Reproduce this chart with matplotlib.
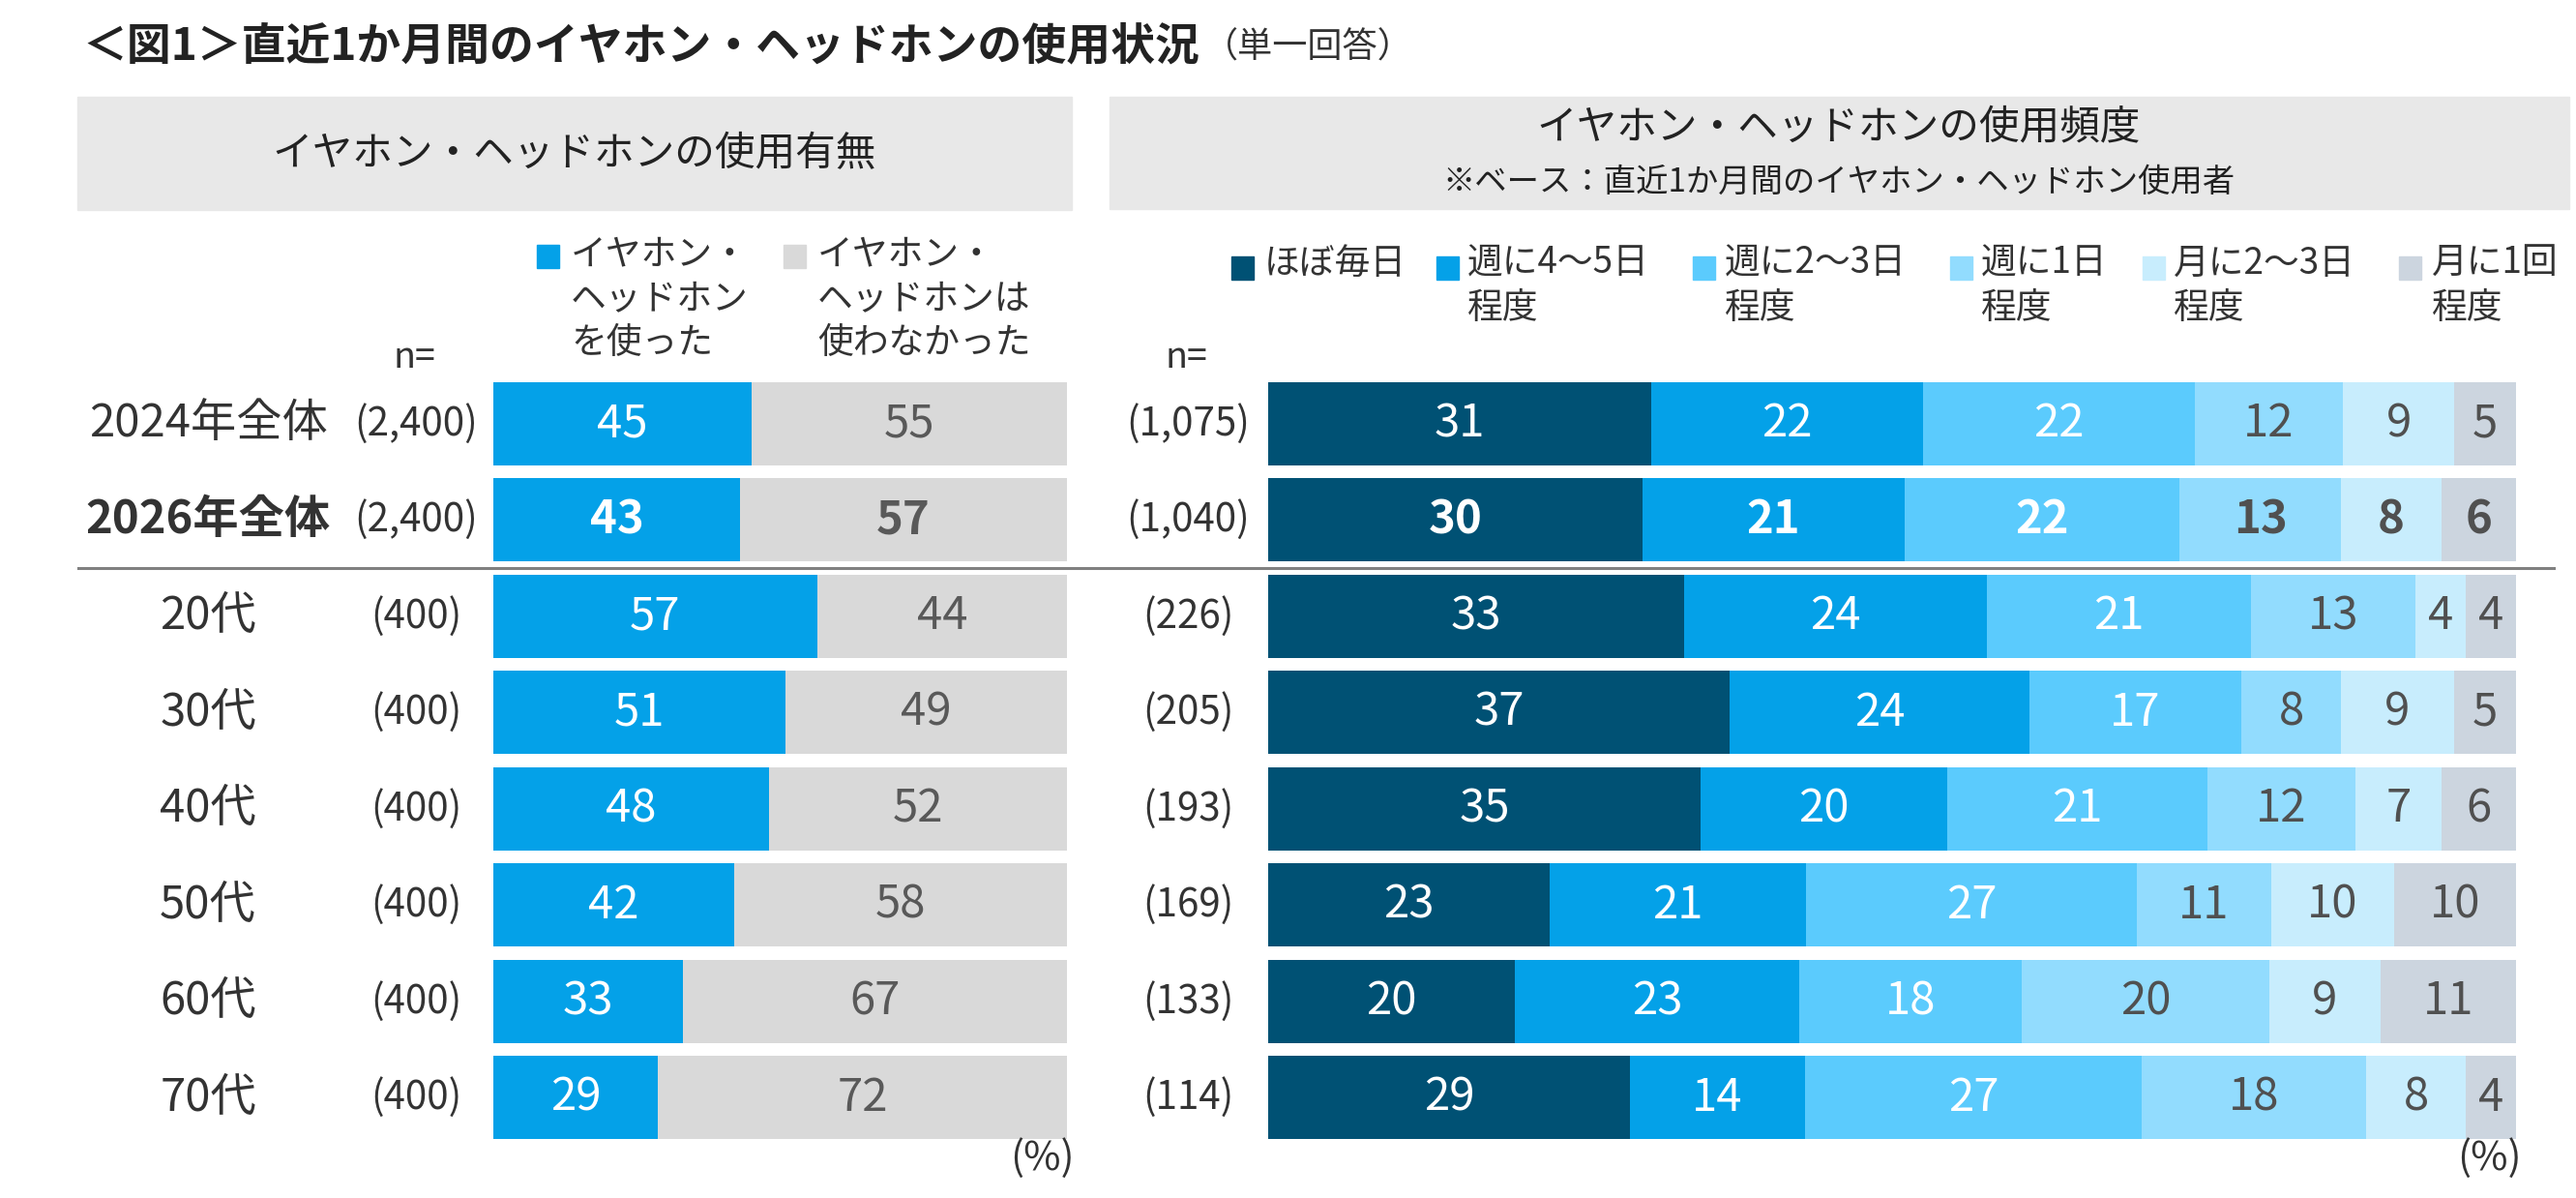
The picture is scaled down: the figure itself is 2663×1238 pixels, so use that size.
import numpy as np
import matplotlib.pyplot as plt
from matplotlib.patches import Rectangle
from matplotlib.lines import Line2D
from matplotlib.transforms import blended_transform_factory

plt.rcParams['font.family'] = ['Noto Sans CJK JP', 'DejaVu Sans']

# data
rows = ['2024年全体', '2026年全体', '20代', '30代', '40代', '50代', '60代', '70代']
n_all = ['(2,400)', '(2,400)', '(400)', '(400)', '(400)', '(400)', '(400)', '(400)']
n_users = ['(1,075)', '(1,040)', '(226)', '(205)', '(193)', '(169)', '(133)', '(114)']

use_labels = ['イヤホン・\nヘッドホン\nを使った', 'イヤホン・\nヘッドホンは\n使わなかった']
used = [45, 43, 57, 51, 48, 42, 33, 29]
not_used = [55, 57, 44, 49, 52, 58, 67, 72]

freq_labels = ['ほぼ毎日', '週に4～5日\n程度', '週に2～3日\n程度', '週に1日\n程度',
               '月に2～3日\n程度', '月に1回\n程度']
daily = [31, 30, 33, 37, 35, 23, 20, 29]
wk45 = [22, 21, 24, 24, 20, 21, 23, 14]
wk23 = [22, 22, 21, 17, 21, 27, 18, 27]
wk1 = [12, 13, 13, 8, 12, 11, 20, 18]
mo23 = [9, 8, 4, 9, 7, 10, 9, 8]
mo1 = [5, 6, 4, 5, 6, 10, 11, 4]

title = '＜図1＞直近1か月間のイヤホン・ヘッドホンの使用状況'
title_note = '（単一回答）'
head_left = 'イヤホン・ヘッドホンの使用有無'
head_right = 'イヤホン・ヘッドホンの使用頻度'
head_right_sub = '※ベース：直近1か月間のイヤホン・ヘッドホン使用者'

use_cols = ['#04a1e8', '#d9d9d9']
use_txt = ['white', '#595959']
freq_cols = ['#005174', '#04a1e8', '#5bcbfd', '#92dcfe', '#c8edfd', '#ccd5df']
freq_txt = ['white', 'white', 'white', '#505050', '#505050', '#505050']
dark = '#333333'

W, H = 2663, 1238
fig = plt.figure(figsize=(W / 100, H / 100), dpi=100)


def fx(px):
    return px / W


def fy(py):
    return 1 - py / H


def box(x0, y0, x1, y1, color):
    fig.patches.append(Rectangle((fx(x0), fy(y1)), fx(x1) - fx(x0), fy(y0) - fy(y1),
                                 transform=fig.transFigure, color=color, zorder=0))


# title
t = fig.text(fx(85), fy(48), title, fontsize=33, fontweight='bold', va='center', color='#222222')
fig.canvas.draw()
bb = t.get_window_extent()
fig.text(bb.x1 / W + fx(4), fy(50), title_note, fontsize=26, va='center', color=dark)

# header boxes
box(80, 100, 1108, 217, '#e8e8e8')
box(1147, 100, 2656, 216, '#e8e8e8')
fig.text(fx(594), fy(160), head_left, fontsize=30, ha='center', va='center', color='#222222')
fig.text(fx(1901), fy(132), head_right, fontsize=30, ha='center', va='center', color='#222222')
fig.text(fx(1901), fy(188), head_right_sub, fontsize=24, ha='center', va='center', color='#222222')


def legend(items, colors, sq_x, txt_x, sq_y, line_y, dy):
    for lab, c, sx, tx in zip(items, colors, sq_x, txt_x):
        box(sx, sq_y - 12, sx + 23, sq_y + 12, c)
        for k, line in enumerate(lab.split('\n')):
            fig.text(fx(tx), fy(line_y + k * dy), line, fontsize=26.5, va='center', color=dark)


legend(use_labels, use_cols, [555, 810], [590, 845], 265, 263, 46)
legend(freq_labels, freq_cols, [1273, 1485, 1750, 2016, 2215, 2480],
       [1307, 1517, 1783, 2048, 2247, 2514], 277, 272, 47)

fig.text(fx(428), fy(370), 'n=', fontsize=27, ha='center', va='center', color=dark)
fig.text(fx(1226), fy(370), 'n=', fontsize=27, ha='center', va='center', color=dark)


def add_ax(x0, x1):
    ax = fig.add_axes([fx(x0), fy(1184.2), fx(x1) - fx(x0), 796 / H])
    ax.set_xlim(0, 100)
    ax.set_ylim(7.5, -0.5)
    ax.axis('off')
    return ax


def stacked(ax, series, colors, txtcols):
    vals = np.array(series, dtype=float).T
    totals = vals.sum(axis=1)
    y = np.arange(len(rows))
    left = np.zeros(len(rows))
    for j in range(vals.shape[1]):
        w = vals[:, j] / totals * 100
        ax.barh(y, w, left=left, height=0.864, color=colors[j], linewidth=0)
        for i in range(len(rows)):
            ax.text(left[i] + w[i] / 2, i, '%d' % vals[i, j], ha='center', va='center',
                    fontsize=34, color=txtcols[j], fontweight='bold' if i == 1 else 'normal')
        left += w


axl = add_ax(510, 1103)
stacked(axl, [used, not_used], use_cols, use_txt)
axr = add_ax(1311, 2601)
stacked(axr, [daily, wk45, wk23, wk1, mo23, mo1], freq_cols, freq_txt)

trl = blended_transform_factory(fig.transFigure, axl.transData)
for i, (lab, n1, n2) in enumerate(zip(rows, n_all, n_users)):
    axl.text(fx(215), i, lab, transform=trl, ha='center', va='center', fontsize=34,
             color=dark, fontweight='bold' if i == 1 else 'normal')
    axl.text(fx(430), i, n1, transform=trl, ha='center', va='center', fontsize=29, color=dark)
    axl.text(fx(1228), i, n2, transform=trl, ha='center', va='center', fontsize=29, color=dark)

# separator between total and age rows
fig.add_artist(Line2D([fx(81), fx(2640)], [fy(587), fy(587)], color='#808080', lw=2.2))

fig.text(fx(1111), fy(1197), '(%)', fontsize=30, ha='right', va='center', color=dark)
fig.text(fx(2607), fy(1197), '(%)', fontsize=30, ha='right', va='center', color=dark)

plt.savefig('out.png', dpi=100)
